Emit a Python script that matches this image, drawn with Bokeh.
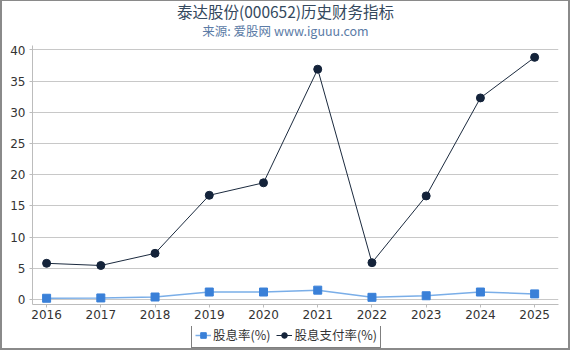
from bokeh.plotting import figure
from bokeh.models import Range1d, FixedTicker, Legend, LegendItem
from bokeh.layouts import column
from bokeh.core.properties import value
from bokeh.embed import file_html
from bokeh.resources import INLINE

years = [2016, 2017, 2018, 2019, 2020, 2021, 2022, 2023, 2024, 2025]
dividend_yield = [0.2, 0.25, 0.4, 1.2, 1.2, 1.5, 0.35, 0.6, 1.2, 0.9]
payout_ratio = [5.8, 5.45, 7.4, 16.7, 18.7, 36.9, 5.9, 16.6, 32.3, 38.8]
y_ticks = [0, 5, 10, 15, 20, 25, 30, 35, 40]
title_text = "泰达股份(000652)历史财务指标"
subtitle_text = "来源: 爱股网 www.iguuu.com"
series_names = ["股息率(%)", "股息支付率(%)"]

W = 566
HEAD_H, MAIN_H, LEG_H = 44, 281, 22
FRAME_L, FRAME_R = 30, 10   # frames of the stacked figures are aligned

BLUE_LINE, BLUE_MARK = "#7aaee8", "#3a80d8"
DARK_LINE, DARK_MARK = "#1b2a3e", "#14233a"

# ---- header with title and subtitle (x range = canvas pixels) ----
head = figure(width=W, height=HEAD_H, output_backend="svg", toolbar_location=None,
              x_range=Range1d(FRAME_L, W - FRAME_R), y_range=Range1d(0, HEAD_H),
              x_axis_location=None, y_axis_location=None,
              min_border_left=FRAME_L, min_border_right=FRAME_R,
              min_border_top=0, min_border_bottom=0)
head.outline_line_color = None
head.grid.grid_line_color = None
head.text(x=[283], y=[34.5], text=[title_text], text_align="center",
          text_baseline="middle", text_font=value("Noto Sans CJK SC"),
          text_font_size="15.5px", text_color="#34495e")
head.text(x=[283], y=[15.5], text=[subtitle_text], text_align="center",
          text_baseline="middle", text_font=value("Noto Sans CJK SC"),
          text_font_size="12.5px", text_color="#5b7ba6")

# ---- main chart ----
p = figure(width=W, height=MAIN_H, output_backend="svg", toolbar_location=None,
           x_range=Range1d(2015.74, 2025.44), y_range=Range1d(-0.8, 40.7),
           min_border_left=FRAME_L, min_border_right=FRAME_R, min_border_top=0,
           min_border_bottom=22)
p.outline_line_color = None
p.xgrid.grid_line_color = None
p.ygrid.grid_line_color = "#c8c8c8"
p.ygrid.grid_line_width = 1

p.yaxis.ticker = FixedTicker(ticks=y_ticks)
p.xaxis.ticker = FixedTicker(ticks=years)
for ax in (p.xaxis, p.yaxis):
    ax.axis_line_color = "#bcbcbc"
    ax.major_tick_line_color = "#bcbcbc"
    ax.minor_tick_line_color = None
    ax.major_tick_in = 0
    ax.major_tick_out = 3
    ax.major_label_text_font = "DejaVu Sans"
    ax.major_label_text_font_size = "12px"
    ax.major_label_text_color = "#333333"
p.yaxis.major_label_standoff = 4
p.xaxis.major_label_standoff = 2

p.line(years, dividend_yield, line_color=BLUE_LINE, line_width=1.5)
p.scatter(years, dividend_yield, marker="square", size=8,
          fill_color=BLUE_MARK, line_color=BLUE_MARK)
p.line(years, payout_ratio, line_color=DARK_LINE, line_width=1)
p.scatter(years, payout_ratio, marker="circle", size=8,
          fill_color=DARK_MARK, line_color=DARK_MARK)

# ---- legend strip ----
leg = figure(width=W, height=LEG_H, output_backend="svg", toolbar_location=None,
             x_range=Range1d(0, 1), y_range=Range1d(0, 1),
             x_axis_location=None, y_axis_location=None,
             min_border_left=FRAME_L, min_border_right=FRAME_R,
             min_border_top=0, min_border_bottom=0)
leg.outline_line_color = None
leg.grid.grid_line_color = None
g1 = leg.line(years, dividend_yield, line_color=BLUE_LINE, line_width=1.5)
m1 = leg.scatter(years, dividend_yield, marker="square", size=8,
                 fill_color=BLUE_MARK, line_color=BLUE_MARK)
g2 = leg.line(years, payout_ratio, line_color=DARK_LINE, line_width=1)
m2 = leg.scatter(years, payout_ratio, marker="circle", size=8,
                 fill_color=DARK_MARK, line_color=DARK_MARK)
legend = Legend(items=[LegendItem(label=series_names[0], renderers=[g1, m1]),
                       LegendItem(label=series_names[1], renderers=[g2, m2])],
                orientation="horizontal", location=(189 - FRAME_L, 0),
                border_line_color="black", border_line_width=1,
                background_fill_color="white", background_fill_alpha=1,
                label_text_font="Noto Sans CJK SC", label_text_font_size="12.5px",
                label_text_color="#333333", glyph_width=16, glyph_height=14,
                label_standoff=2, spacing=6, padding=3, margin=0,
                label_height=14)
leg.add_layout(legend, "center")

layout = column(head, p, leg, spacing=0)
layout.styles = {"border-style": "solid", "border-color": "#8a8a8a",
                 "border-width": "1px 2px 2px 2px"}

open("out.html", "w").write(file_html(layout, INLINE))
